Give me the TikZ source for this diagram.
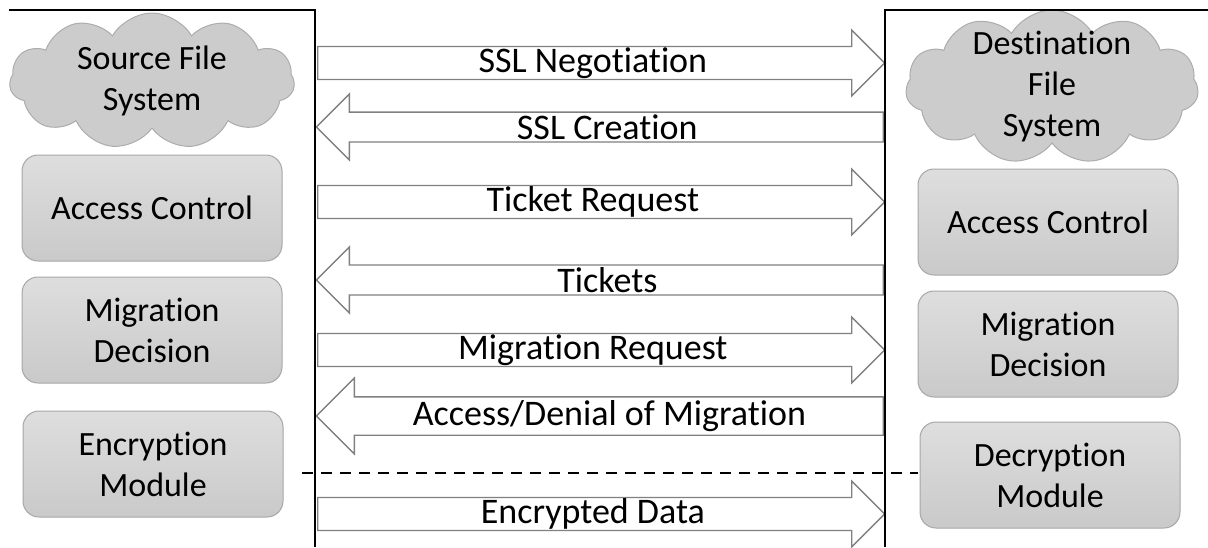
\documentclass[tikz,border=0pt]{standalone}
\usepackage{fontspec}
\setmainfont{Carlito}[Ligatures = {NoCommon, NoRequired, NoContextual}]
\usetikzlibrary{shapes.arrows,shapes.symbols}

\tikzset{
    module/.style = {draw = gray!70, line width = 1pt, rounded corners = 16pt,
        top color = gray!26, bottom color = gray!42,
        minimum width = 260pt, minimum height = 106pt, align = center},
    filesys/.style = {cloud, cloud puffs = 11, cloud puff arc = 120, cloud ignores aspect,
        draw = gray!65, line width = 1pt, fill = gray!40, align = center,
        inner xsep = -30pt, inner ysep = -45pt},
    msg/.style = {single arrow, draw = gray, line width = 1.3pt, fill = white,
        single arrow head extend = 16pt, minimum width = 66pt, minimum height = 567pt,
        inner xsep = 0pt, inner ysep = 0pt, font = \fontsize{36}{41}\selectfont},
    msgright/.style = {msg, anchor = tail},
    msgleft/.style = {msg, shape border rotate = 180, anchor = tail}
}

\begin{document}
\begin{tikzpicture}[x = 1pt, y = -1pt, font = \fontsize{34}{41}\selectfont]
            \useasboundingbox (0,0) rectangle (1208,547);
            % file systems
            \node[filesys, minimum width = 285pt, minimum height = 136pt] (srcfs) at (152,81) {Source File\\System};
            \node[filesys, minimum width = 293pt, minimum height = 154pt] (dstfs) at (1052,87) {Destination\\File\\System};
            % modules
            \node[module] (srcaccess) at (152,208) {Access Control};
            \node[module] (srcdecide) at (152,330) {Migration\\Decision};
            \node[module] (srcencrypt) at (153,464) {Encryption\\Module};
            \node[module] (dstaccess) at (1048,222) {Access Control};
            \node[module] (dstdecide) at (1048,344) {Migration\\Decision};
            \node[module] (dstdecrypt) at (1050,475) {Decryption\\Module};
            % messages
            \node[msgright] (negot) at (317,63) {SSL Negotiation};
            \node[msgleft] (create) at (884,127) {SSL Creation};
            \node[msgright] (ticketreq) at (317,202) {Ticket Request};
            \node[msgleft] (tickets) at (884,280) {Tickets};
            \node[msgright] (migreq) at (317,350) {Migration Request};
            \node[msgleft, minimum width = 76pt] (migans) at (884,416) {Access/Denial of Migration};
            \node[msgright] (encdata) at (317,514) {Encrypted Data};
            % frames
            \coordinate (srctop) at (9,10);
            \coordinate (srccorner) at (315,10);
            \coordinate (srcfoot) at (315,547);
            \coordinate (dstcorner) at (885,10);
            \coordinate (dsttop) at (1208,10);
            \coordinate (dstfoot) at (885,547);
            \draw[line width = 1.5pt] (srctop) -- (srccorner) -- (srcfoot);
            \draw[line width = 1.5pt] (dsttop) -- (dstcorner) -- (dstfoot);
            \coordinate (cutleft) at (302,473);
            \coordinate (cutright) at (918,473);
            \draw[line width = 1.5pt, dash pattern = on 11pt off 8pt] (cutleft) -- (cutright);
        \end{tikzpicture}
\end{document}
